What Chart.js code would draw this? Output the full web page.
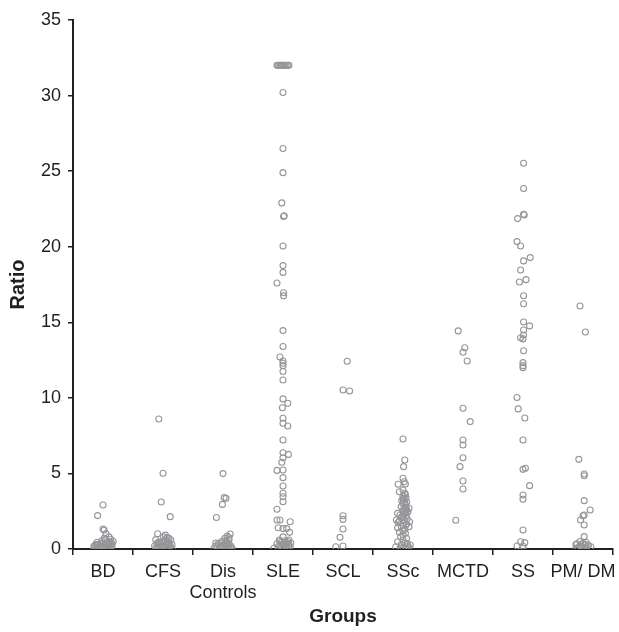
<!DOCTYPE html>
<html lang="en">
<head>
    <meta charset="UTF-8">
    <title>Ratio by group</title>
    <script src="https://cdn.jsdelivr.net/npm/chart.js"></script>
    <style>
        body { margin: 0; background: #fff; }
        #wrap { width: 619px; height: 632px; }
    </style>
</head>
<body>
    <div id="wrap"><canvas id="ratioChart"></canvas></div>

    <script>
        // group names on the x axis
        const groupLabels = ['BD', 'CFS', ['Dis', 'Controls'], 'SLE', 'SCL', 'SSc', 'MCTD', 'SS', 'PM/ DM'];

        // ratio values per group and the sideways jitter of each point
        const bdValues = [2.91, 2.21, 1.32, 1.25, 1.0, 0.8, 0.65, 0.5, 0.55, 0.45, 0.4, 0.35, 0.3, 0.3, 0.25, 0.2, 0.2, 0.15, 0.15, 0.1, 0.1, 0.1, 0.05, 0.05, 0.05, 0.05, 0.4, 0.25, 0.6,
            0.7, 0.5, 0.35, 0.2, 0.1, 0.3, 0.15, 0.05, 0.45, 0.25, 0.1, 0.4];
        const bdJitter = [0, -0.09, 0, 0.02, 0.05, 0.1, 0.13, 0.17, -0.02, -0.1, 0.08, -0.05, 0.12, -0.12, 0.03, -0.15, 0.15, -0.06, 0.07, 0, -0.12, 0.12, -0.05, 0.05, 0.1, -0.1, 0, -0.08, 0.04,
            0.02, 0.1, 0.15, -0.02, 0.07, -0.08, 0.1, -0.15, 0.12, -0.11, -0.03, 0.05];

        const cfsValues = [8.6, 5.01, 3.11, 2.14, 1.01, 0.92, 0.75, 0.62, 0.6, 0.5, 0.45, 0.4, 0.35, 0.3, 0.25, 0.2, 0.2, 0.15, 0.1, 0.1, 0.05, 0.05, 0.05, 0.3, 0.5, 0.15,
            0.8, 0.7, 0.4, 0.25, 0.1, 0.35, 0.2, 0.6, 0.05, 0.45];
        const cfsJitter = [-0.07, 0, -0.03, 0.12, -0.09, 0.04, 0.07, -0.12, 0.13, 0, -0.05, 0.1, -0.1, 0.05, -0.03, 0.12, -0.14, 0.08, -0.07, 0.02, 0.15, -0.12, 0.05, 0.15, 0.08, -0.02,
            0.01, 0.1, -0.02, 0.1, -0.1, 0.07, 0.0, 0.03, -0.04, -0.08];

        const disValues = [4.99, 3.4, 3.35, 2.95, 2.08, 0.99, 0.85, 0.7, 0.6, 0.5, 0.45, 0.35, 0.3, 0.25, 0.2, 0.2, 0.15, 0.1, 0.1, 0.05, 0.05, 0.05, 0.4, 0.15,
            0.75, 0.55, 0.3, 0.2, 0.1, 0.4, 0.05, 0.25];
        const disJitter = [0, 0.02, 0.05, -0.01, -0.11, 0.12, 0.07, 0.03, 0.1, -0.02, 0.06, -0.08, 0.1, 0, -0.12, 0.13, 0.05, -0.05, 0.08, -0.15, 0, 0.15, -0.12, -0.09,
            0.1, 0.04, 0.03, -0.03, 0.12, -0.05, 0.08, 0.07];

        const sleValues = [32, 32, 32, 32, 32, 32, 32, 32, 32, 32, 30.2, 26.5, 24.9, 22.9, 22.0, 22.05, 20.05, 18.75, 18.3, 17.6, 16.95, 16.75,
            14.45, 13.4, 12.7, 12.44, 12.29, 12.13, 11.74, 11.18, 9.93, 9.64, 9.35, 8.65, 8.32, 8.14, 7.21, 6.37, 6.26, 6.04, 5.74,
            5.23, 5.2, 4.72, 4.17, 3.69, 3.46, 3.13, 2.63, 1.92, 1.92, 1.8, 1.41, 1.35, 1.35, 1.1, 0.8, 0.6, 0.55, 0.5, 0.45, 0.4,
            0.35, 0.3, 0.3, 0.25, 0.2, 0.15, 0.1, 0.05, 0.4, 0.5, 0.3, 0.2, 0.1, 0.6, 0.35, 0.15];
        const sleJitter = [-0.1, -0.075, -0.05, -0.025, 0, 0.025, 0.05, 0.075, 0.1, -0.04, 0, 0, 0, -0.02, 0.01, 0.02, 0, 0, 0, -0.1, 0.01, 0.01,
            0, 0, -0.05, 0, 0, 0, 0, 0, 0, 0.08, -0.01, 0, 0, 0.08, 0, 0, 0.09, 0, -0.02,
            0, -0.1, 0, 0, 0, 0, 0, -0.1, -0.1, -0.05, 0.12, -0.08, 0, 0.06, 0.11, 0, -0.06, 0.03, 0.08, -0.02, 0.05,
            -0.1, 0, 0.1, -0.05, 0.04, -0.08, 0.12, -0.15, 0.13, -0.05, 0.06, 0.1, 0.02, 0.1, 0.0, -0.02];

        const sclValues = [12.42, 10.52, 10.45, 2.2, 1.96, 1.32, 0.77, 0.2, 0.15];
        const sclJitter = [0.07, 0, 0.11, 0, 0, 0, -0.05, 0, -0.12];

        const sscValues = [7.28, 5.89, 5.45, 4.68, 4.45, 4.28, 4.3, 3.9, 3.79, 3.69, 3.5, 3.4, 3.3, 3.2, 3.1, 3.0, 2.9, 2.8, 2.7, 2.6,
            2.55, 2.5, 2.45, 2.36, 2.3, 2.2, 2.15, 2.1, 2.0, 1.92, 1.9, 1.8, 1.75, 1.7, 1.6, 1.5, 1.48, 1.4, 1.3, 1.2, 1.04, 0.93,
            0.8, 0.7, 0.6, 0.48, 0.4, 0.3, 0.26, 0.2, 0.15, 0.1, 0.05, 0.05,
            3.6, 3.35, 3.05, 2.75, 2.65, 2.4, 2.25, 1.85, 1.65, 1.1, 0.35, 0.1];
        const sscJitter = [0, 0.03, 0.01, 0, 0.02, -0.08, 0.04, 0, -0.06, 0.03, 0, 0.05, 0.02, -0.02, 0.06, 0, 0.04, -0.03, 0.1, 0.06,
            0, 0.03, 0.08, -0.09, 0.02, 0.05, -0.02, 0, 0.07, -0.11, 0.02, 0.11, -0.08, 0, 0.05, -0.03, 0.1, -0.09, 0.03, 0, 0.04, 0,
            -0.04, 0.06, 0, -0.09, 0.03, -0.03, 0.12, 0.08, -0.12, 0, -0.05, 0.05,
            0.04, 0.0, 0.03, 0.05, 0.02, 0.05, -0.05, -0.06, 0.06, -0.06, 0.07, 0.1];

        const mctdValues = [14.43, 13.32, 13.02, 12.44, 9.31, 8.43, 7.21, 6.88, 6.04, 5.45, 4.5, 3.97, 1.9];
        const mctdJitter = [-0.08, 0.03, 0, 0.07, 0, 0.12, 0, 0, 0, -0.05, 0, 0, -0.12];

        const ssValues = [25.52, 23.85, 22.15, 22.1, 21.86, 20.34, 20.05, 19.28, 19.06, 18.46, 17.82, 17.67, 16.76, 16.23, 15.02,
            14.76, 14.49, 14.16, 13.98, 13.9, 13.12, 12.33, 12.13, 12.0, 10.02, 9.27, 8.67, 7.21, 5.34, 5.27, 4.19, 3.57, 3.29,
            1.26, 0.48, 0.42, 0.2, 0.2, 0.05];
        const ssJitter = [0.01, 0.01, 0.01, 0.02, -0.09, -0.1, -0.04, 0.12, 0.01, -0.04, 0.05, -0.06, 0.01, 0.01, 0.01,
            0.11, 0.01, 0.01, -0.04, 0, 0.01, 0, 0, 0, -0.1, -0.08, 0.03, 0, 0.04, 0, 0.11, 0, 0,
            0, -0.04, 0.03, -0.1, 0, 0];

        const pmdmValues = [16.08, 14.36, 5.93, 4.96, 4.85, 3.2, 2.58, 2.25, 2.2, 1.92, 1.59, 0.82, 0.5, 0.45, 0.35, 0.3, 0.25, 0.2, 0.15, 0.1, 0.05, 0.05, 0.3, 0.15,
            0.4, 0.2, 0.1, 0.3];
        const pmdmJitter = [-0.05, 0.04, -0.07, 0.02, 0.02, 0.02, 0.12, 0.02, 0, -0.04, 0.02, 0.02, -0.05, 0.05, -0.1, 0, 0.09, -0.05, 0.13, 0, -0.12, 0.05, 0.04, -0.02,
            0.0, 0.07, -0.08, -0.12];

        const groupValues = [bdValues, cfsValues, disValues, sleValues, sclValues, sscValues, mctdValues, ssValues, pmdmValues];
        const groupJitter = [bdJitter, cfsJitter, disJitter, sleJitter, sclJitter, sscJitter, mctdJitter, ssJitter, pmdmJitter];

        const yTicks = [0, 5, 10, 15, 20, 25, 30, 35];

        const ink = '#231f20';
        const dotColor = '#96969a';
        const fontFamily = '"Liberation Sans", Arial, Helvetica, sans-serif';

        // points sit in the middle of their group slot, nudged sideways by the jitter
        const points = [];
        groupValues.forEach((vals, g) => {
            vals.forEach((v, i) => {
                points.push({ x: g + 0.5 + groupJitter[g][i], y: v });
            });
        });

        const ctx = document.getElementById('ratioChart').getContext('2d');
        new Chart(ctx, {
            type: 'scatter',
            data: {
                datasets: [{
                    label: 'Ratio',
                    data: points,
                    pointRadius: 3,
                    pointBorderWidth: 1.1,
                    pointBorderColor: dotColor,
                    pointBackgroundColor: 'rgba(255,255,255,0)'
                }]
            },
            options: {
                responsive: true,
                maintainAspectRatio: false,
                animation: false,
                layout: { padding: { top: 20, right: 6, left: 0, bottom: 0 } },
                plugins: {
                    legend: { display: false },
                    tooltip: { enabled: false }
                },
                scales: {
                    x: {
                        type: 'linear',
                        min: 0,
                        max: groupLabels.length,
                        afterBuildTicks: (axis) => {
                            const t = [];
                            for (let i = 0; i <= groupLabels.length * 2; i++) t.push({ value: i / 2 });
                            axis.ticks = t;
                        },
                        afterFit: (axis) => { axis.height = 83; },
                        ticks: {
                            autoSkip: false,
                            maxRotation: 0,
                            minRotation: 0,
                            padding: 6,
                            color: ink,
                            font: { family: fontFamily, size: 18 },
                            callback: (value) => Number.isInteger(value) ? '' : groupLabels[Math.floor(value)]
                        },
                        grid: {
                            drawOnChartArea: false,
                            drawTicks: true,
                            tickLength: 6,
                            lineWidth: 1.5,
                            color: (c) => (c.tick && Number.isInteger(c.tick.value)) ? ink : 'rgba(0,0,0,0)'
                        },
                        border: { color: ink, width: 2 },
                        title: {
                            display: true,
                            text: 'Groups',
                            color: ink,
                            padding: { top: 0, bottom: 4 },
                            font: { family: fontFamily, size: 19, weight: 'bold' }
                        }
                    },
                    y: {
                        min: 0,
                        max: 35,
                        afterBuildTicks: (axis) => { axis.ticks = yTicks.map(v => ({ value: v })); },
                        afterFit: (axis) => { axis.width = 73; },
                        ticks: {
                            padding: 7,
                            color: ink,
                            font: { family: fontFamily, size: 18 }
                        },
                        grid: {
                            drawOnChartArea: false,
                            drawTicks: true,
                            tickLength: 5,
                            lineWidth: 1.5,
                            color: ink
                        },
                        border: { color: ink, width: 2 },
                        title: {
                            display: true,
                            text: 'Ratio',
                            color: ink,
                            padding: { top: 6, bottom: 0 },
                            font: { family: fontFamily, size: 20, weight: 'bold' }
                        }
                    }
                }
            }
        });
    </script>
</body>
</html>
